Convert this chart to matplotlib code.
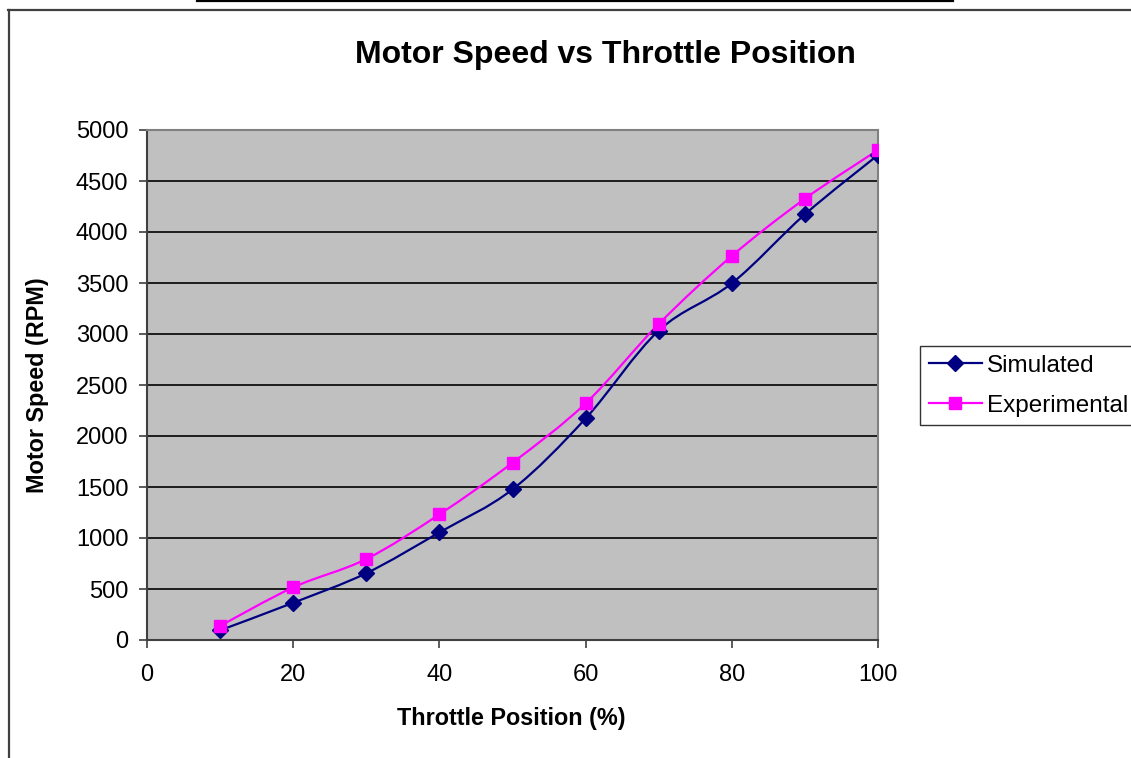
import matplotlib
matplotlib.use("Agg")
import matplotlib.pyplot as plt
from matplotlib.path import Path
from matplotlib.patches import PathPatch
from matplotlib.lines import Line2D

plt.rcParams["font.family"] = ["Liberation Sans", "DejaVu Sans"]

# Data
throttle = [10, 20, 30, 40, 50, 60, 70, 80, 90, 100]
simulated = [95, 365, 655, 1055, 1477, 2172, 3033, 3497, 4173, 4755]
experimental = [138, 516, 794, 1232, 1738, 2320, 3098, 3765, 4326, 4804]

x_ticks = [0, 20, 40, 60, 80, 100]
y_ticks = list(range(0, 5001, 500))


def smooth_path(xs, ys):
    # Excel-style smoothed line: cubic Bezier through each data point
    pts = list(zip(xs, ys))
    verts = [pts[0]]
    codes = [Path.MOVETO]
    for i in range(len(pts) - 1):
        p0 = pts[i - 1] if i > 0 else pts[i]
        p1 = pts[i]
        p2 = pts[i + 1]
        p3 = pts[i + 2] if i + 2 < len(pts) else pts[i + 1]
        c1 = (p1[0] + (p2[0] - p0[0]) / 6, p1[1] + (p2[1] - p0[1]) / 6)
        c2 = (p2[0] - (p3[0] - p1[0]) / 6, p2[1] - (p3[1] - p1[1]) / 6)
        verts += [c1, c2, p2]
        codes += [Path.CURVE4] * 3
    return Path(verts, codes)


fig = plt.figure(figsize=(11.31, 7.58), dpi=100)
ax = fig.add_axes([147 / 1131, 118 / 758, 731 / 1131, 510 / 758])
ax.set_facecolor("#C0C0C0")

for y in y_ticks[1:-1]:
    ax.axhline(y, color="#101010", lw=1.3, zorder=1)

sim_color = "#000080"
exp_color = "#FF00FF"

ax.add_patch(PathPatch(smooth_path(throttle, simulated), facecolor="none",
                       edgecolor=sim_color, lw=1.6, zorder=3))
ax.add_patch(PathPatch(smooth_path(throttle, experimental), facecolor="none",
                       edgecolor=exp_color, lw=1.6, zorder=3))
ax.plot(throttle, simulated, ls="none", marker="D", ms=8, color=sim_color, zorder=4)
ax.plot(throttle, experimental, ls="none", marker="s", ms=9, color=exp_color, zorder=5)

ax.set_xlim(0, 100)
ax.set_ylim(0, 5000)
ax.set_xticks(x_ticks)
ax.set_yticks(y_ticks)
ax.tick_params(axis="both", labelsize=17, length=5.5, width=1.2, color="#404040")
ax.tick_params(axis="x", pad=12)
ax.tick_params(axis="y", pad=8)

for side in ["left", "bottom"]:
    ax.spines[side].set_color("#404040")
    ax.spines[side].set_linewidth(1.5)
for side in ["top", "right"]:
    ax.spines[side].set_color("#808080")
    ax.spines[side].set_linewidth(1.5)

fig.text(605 / 1131, 1 - 55 / 758, "Motor Speed vs Throttle Position",
         fontsize=23, fontweight="bold", ha="center", va="center")
fig.text(511 / 1131, 1 - 718 / 758, "Throttle Position (%)",
         fontsize=16.8, fontweight="bold", ha="center", va="center")
fig.text(38 / 1131, 1 - 385 / 758, "Motor Speed (RPM)",
         fontsize=16.8, fontweight="bold", ha="center", va="center", rotation=90)

handles = [
    Line2D([], [], color=sim_color, lw=1.6, marker="D", ms=8),
    Line2D([], [], color=exp_color, lw=1.6, marker="s", ms=9),
]
leg = fig.legend(handles, ["Simulated", "Experimental"], loc="upper left",
                 bbox_to_anchor=(920 / 1131, 1 - 346 / 758), fontsize=17.5,
                 frameon=True, fancybox=False, edgecolor="black",
                 borderpad=0.35, borderaxespad=0, handlelength=2.2,
                 handletextpad=0.2, labelspacing=0.75)
leg.get_frame().set_linewidth(1.0)

# chart border and the line above it
fig.add_artist(Line2D([8 / 1131, 1.0], [1 - 10 / 758] * 2, color="#404040", lw=1.6))
fig.add_artist(Line2D([8.5 / 1131] * 2, [0, 1 - 10 / 758], color="#404040", lw=1.6))
fig.add_artist(Line2D([197 / 1131, 953 / 1131], [1 - 0.8 / 758] * 2, color="black", lw=1.6))

fig.savefig("out.png", dpi=100)
